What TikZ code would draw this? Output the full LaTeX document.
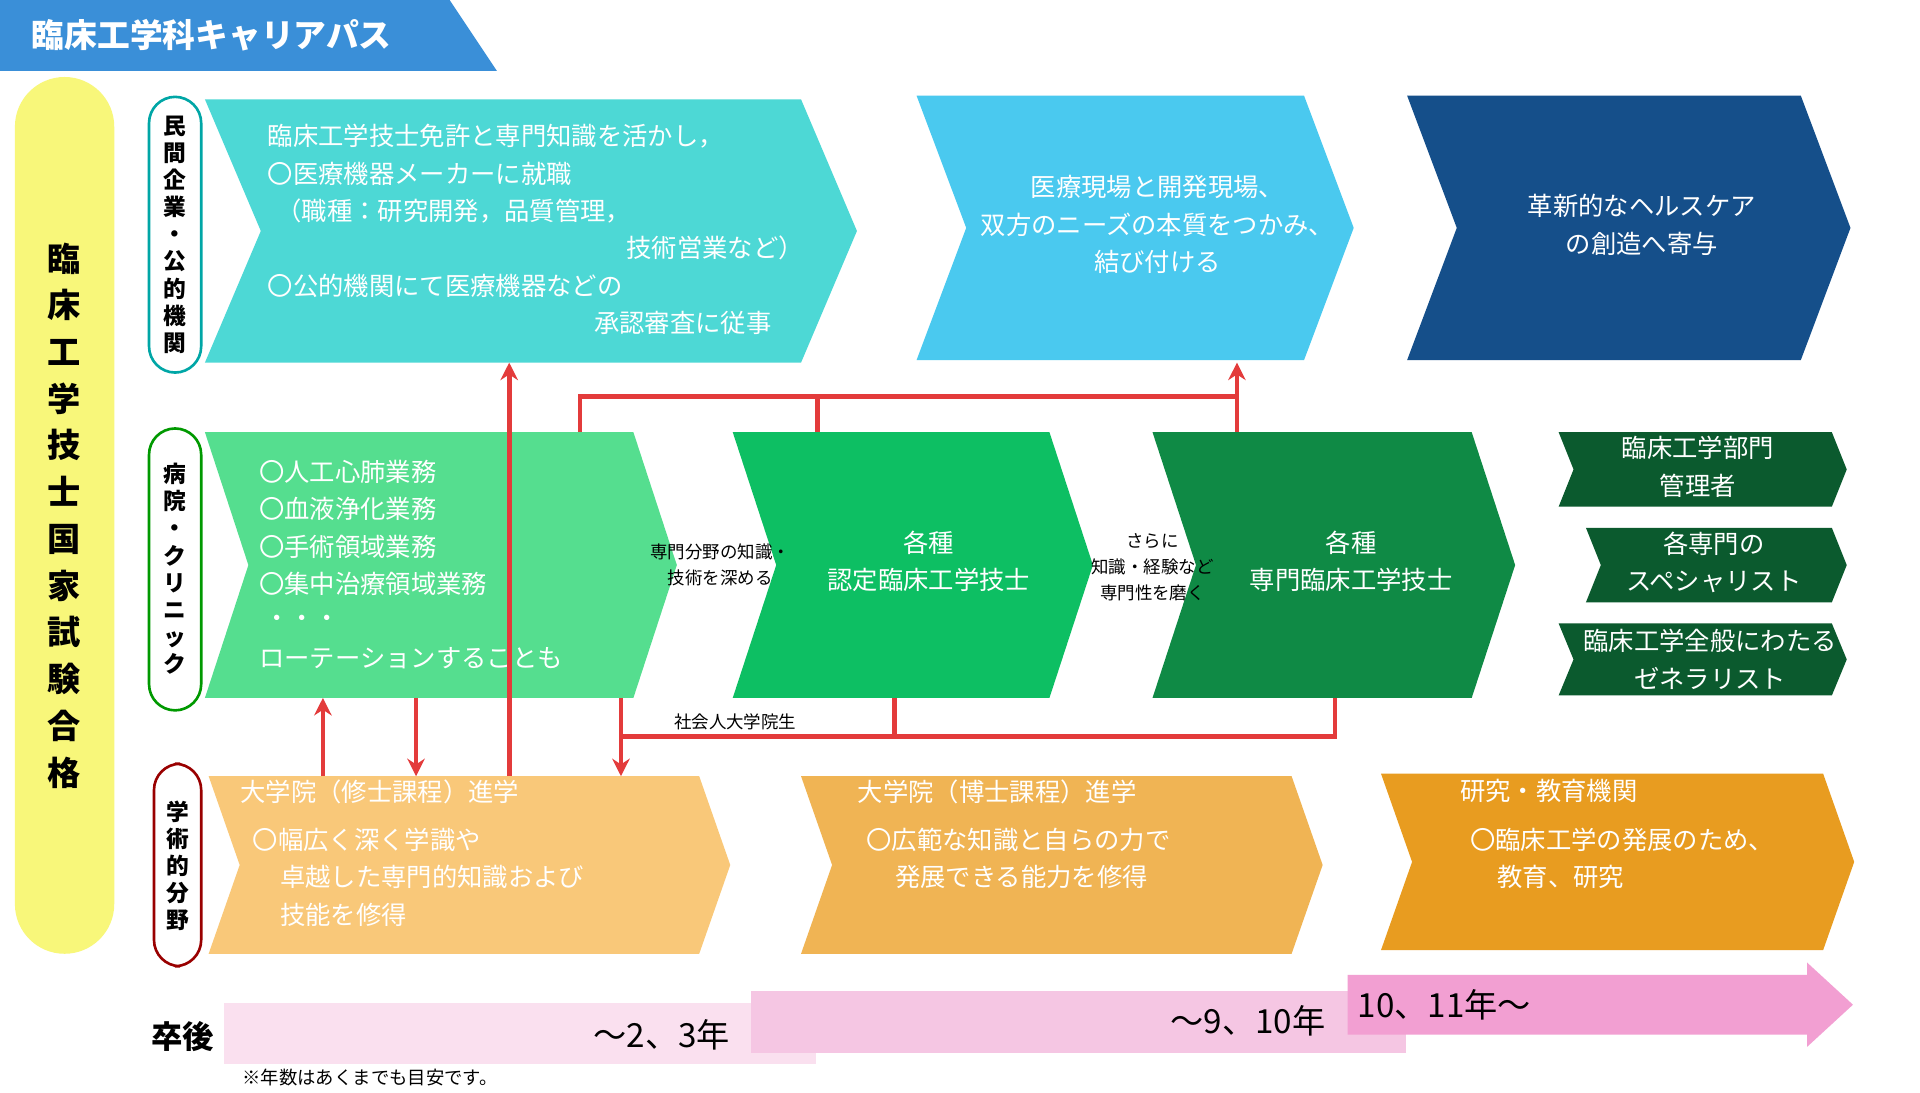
\documentclass[tikz,border=0pt]{standalone}
\usepackage{fontspec}
\setmainfont{Noto Sans CJK JP}
\usetikzlibrary{arrows.meta}
\definecolor{cA}{HTML}{4DD8D5}
\definecolor{cB}{HTML}{4AC9EF}
\definecolor{cC}{HTML}{154F8A}
\definecolor{cD}{HTML}{55DE8F}
\definecolor{cE}{HTML}{0DBF63}
\definecolor{cF}{HTML}{0F8A45}
\definecolor{cG}{HTML}{0B5A2E}
\definecolor{cH}{HTML}{F9C879}
\definecolor{cI}{HTML}{F0B454}
\definecolor{cJ}{HTML}{E89C20}
\definecolor{pk1}{HTML}{FAE0EF}
\definecolor{pk2}{HTML}{F5C6E3}
\definecolor{pk3}{HTML}{F29FD2}
\definecolor{red1}{HTML}{E33B3B}
\definecolor{ttl}{HTML}{3A8FD8}
\definecolor{yel}{HTML}{F8F77A}
\newcommand{\chev}[6]{\fill[#6] (#1,#3) -- ({#2-#5},#3) -- (#2,{(#3+#4)/2}) -- ({#2-#5},#4) -- (#1,#4) -- ({#1+#5},{(#3+#4)/2}) -- cycle;}
\tikzset{
 wt/.style={text=white,font=\fontsize{5.8}{8.6}\selectfont,inner sep=0pt},
 wtc/.style={wt,align=center},
 bk/.style={text=black,font=\fontsize{4}{6}\selectfont,inner sep=0pt,align=center},
 rl/.style={draw=#1,line width=0.6pt,rounded corners=6pt,fill=white},
 rtx/.style={font=\fontsize{5.2}{6.2}\selectfont\bfseries,align=center,inner sep=0pt},
 con/.style={red1,line width=1.1pt},
 arr/.style={con,-{Stealth[length=4pt,width=4pt]}}
}
\begin{document}
\begin{tikzpicture}[x=0.01cm,y=-0.01cm]
\useasboundingbox (0,0) rectangle (1546,880);
\fill[white] (0,0) rectangle (1546,880);
% title
\fill[ttl] (0,0) -- (362,0) -- (400,57) -- (0,57) -- cycle;
\node[text=white,font=\fontsize{7.5}{9}\selectfont\bfseries,anchor=west,inner sep=0pt] (title) at (25,28) {臨床工学科キャリアパス};
% yellow
\fill[yel,rounded corners=0.4cm] (12,62) rectangle (92,768);
\node[font=\fontsize{7.6}{10.7}\selectfont\bfseries,align=center,inner sep=0pt] (pass) at (52,415) {臨\\床\\工\\学\\技\\士\\国\\家\\試\\験\\合\\格};
% row labels
\draw[rl=teal!70!cyan] (120,78) rectangle (162,300);
\node[rtx] (r1) at (141,189) {民\\間\\企\\業\\・\\公\\的\\機\\関};
\draw[rl=green!60!black] (120,345) rectangle (162,572);
\node[rtx] (r2) at (141,458) {病\\院\\・\\ク\\リ\\ニ\\ッ\\ク};
\draw[rl=red!60!black] (124,615) rectangle (162,778);
\node[rtx] (r3) at (143,697) {学\\術\\的\\分\\野};
% chevrons
\chev{165}{690}{80}{292}{45}{cA}
\chev{738}{1090}{77}{290}{40}{cB}
\chev{1133}{1490}{77}{290}{40}{cC}
\chev{165}{545}{348}{562}{35}{cD}
\chev{590}{880}{348}{562}{35}{cE}
\chev{928}{1220}{348}{562}{35}{cF}
\chev{1255}{1487}{348}{408}{12}{cG}
\chev{1277}{1487}{425}{485}{12}{cG}
\chev{1255}{1487}{502}{560}{12}{cG}
\chev{168}{588}{625}{768}{25}{cH}
\chev{645}{1065}{625}{768}{25}{cI}
\chev{1112}{1493}{623}{765}{25}{cJ}
% time bars
\fill[pk1] (180,808) rectangle (657,857);
\fill[pk2] (605,798) rectangle (1132,848);
\fill[pk3] (1085,785) -- (1455,785) -- (1455,775) -- (1492,809) -- (1455,843) -- (1455,833) -- (1085,833) -- cycle;
\node[font=\fontsize{7.2}{9}\selectfont\bfseries,inner sep=0pt] (sg) at (147,835) {卒後};
\node[font=\fontsize{7.6}{9}\selectfont,inner sep=0pt] (t1) at (533,833) {～2、3年};
\node[font=\fontsize{7.6}{9}\selectfont,inner sep=0pt] (t2) at (1005,822) {～9、10年};
\node[font=\fontsize{7.6}{9}\selectfont,inner sep=0pt] (t3) at (1163,809) {10、11年～};
\node[font=\fontsize{4.2}{5}\selectfont,inner sep=0pt] (note) at (298,868) {※年数はあくまでも目安です。};
% texts A
\node[wt,anchor=west] (a1) at (215,110) {臨床工学技士免許と専門知識を活かし，};
\node[wt,anchor=west] (a2) at (215,140) {〇医療機器メーカーに就職};
\node[wt,anchor=west] (a3) at (222,170) {（職種：研究開発，品質管理，};
\node[wt,anchor=east] (a4) at (648,200) {技術営業など）};
\node[wt,anchor=west] (a5) at (215,230) {〇公的機関にて医療機器などの};
\node[wt,anchor=east] (a6) at (622,260) {承認審査に従事};
\node[wtc] (b) at (932,181) {医療現場と開発現場、\\双方のニーズの本質をつかみ、\\結び付ける};
\node[wtc] (c) at (1322,181) {革新的なヘルスケア\\の創造へ寄与};
\node[wt,anchor=west] (d1) at (208,380) {〇人工心肺業務};
\node[wt,anchor=west] (d2) at (208,410) {〇血液浄化業務};
\node[wt,anchor=west] (d3) at (208,440) {〇手術領域業務};
\node[wt,anchor=west] (d4) at (208,470) {〇集中治療領域業務};
\node[wt,anchor=west] (d5) at (212,500) {・・・};
\node[wt,anchor=west] (d6) at (208,530) {ローテーションすることも};
\node[wtc] (e) at (748,452) {各種\\認定臨床工学技士};
\node[wtc] (f) at (1088,452) {各種\\専門臨床工学技士};
\node[wtc] (g1) at (1367,376) {臨床工学部門\\管理者};
\node[wtc] (g2) at (1380,453) {各専門の\\スペシャリスト};
\node[wtc] (g3) at (1377,531) {臨床工学全般にわたる\\ゼネラリスト};
\node[wt,anchor=west] (h1) at (193,638) {大学院（修士課程）進学};
\node[wt,anchor=west] (h2) at (203,676) {〇幅広く深く学識や};
\node[wt,anchor=west] (h3) at (225,706) {卓越した専門的知識および};
\node[wt,anchor=west] (h4) at (225,737) {技能を修得};
\node[wt,anchor=west] (i1) at (690,638) {大学院（博士課程）進学};
\node[wt,anchor=west] (i2) at (697,676) {〇広範な知識と自らの力で};
\node[wt,anchor=west] (i3) at (720,706) {発展できる能力を修得};
\node[wt,anchor=west] (j1) at (1175,637) {研究・教育機関};
\node[wt,anchor=west] (j2) at (1183,676) {〇臨床工学の発展のため、};
\node[wt,anchor=west] (j3) at (1205,706) {教育、研究};
% connectors
\coordinate (p1a) at (410,625); \coordinate (p1b) at (410,292);
\draw[arr] (p1a) -- (p1b);
\coordinate (p2a) at (260,625); \coordinate (p2b) at (260,562);
\draw[arr] (p2a) -- (p2b);
\coordinate (p3a) at (335,562); \coordinate (p3b) at (335,625);
\draw[arr] (p3a) -- (p3b);
\coordinate (q0) at (500,562); \coordinate (q1) at (500,625);
\coordinate (q2) at (720,562); \coordinate (q3) at (1075,562);
\draw[arr] (q0) -- (q1);
\draw[con] (q2) -- (720,593) -- (500,593);
\draw[con] (q3) -- (1075,593) -- (720,593);
\coordinate (u1) at (467,348); \coordinate (u2) at (658,348); \coordinate (u3) at (996,348); \coordinate (u4) at (996,292);
\draw[con] (u1) -- (467,319) -- (996,319);
\draw[con] (u2) -- (658,319);
\draw[arr] (u3) -- (u4);
\node[bk] (lb1) at (592,581) {社会人大学院生};
\node[bk] (lb2) at (580,455) {専門分野の知識・\\技術を深める};
\node[bk] (lb3) at (928,457) {さらに\\知識・経験など\\専門性を磨く};
\end{tikzpicture}
\end{document}
